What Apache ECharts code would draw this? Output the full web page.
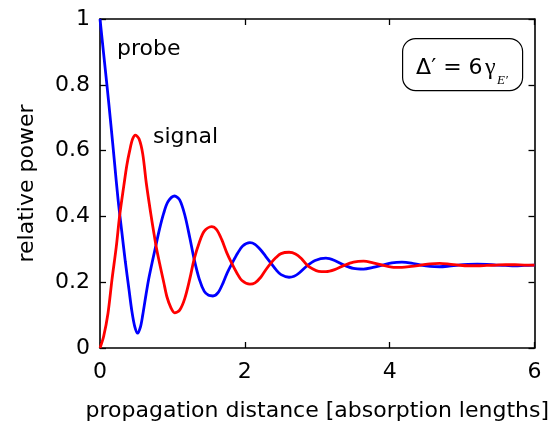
<!DOCTYPE html>
<html>
<head>
<meta charset="utf-8">
<script src="https://cdn.jsdelivr.net/npm/echarts@6/dist/echarts.min.js"></script>
<style>
  html, body { margin: 0; padding: 0; background: #fff; }
  #chart { width: 552px; height: 428px; }
</style>
</head>
<body>
<div id="chart"></div>
<script>
// Axis ticks
const xTicks = [0, 2, 4, 6];
const yTicks = [0, 0.2, 0.4, 0.6, 0.8, 1];

// Relative power of the probe field vs. propagation distance [distance, power]
const probe = [
  [0, 1.0], [0.05, 0.895], [0.10, 0.79], [0.15, 0.68], [0.20, 0.565], [0.25, 0.45],
  [0.30, 0.355], [0.35, 0.262], [0.40, 0.178], [0.44, 0.112], [0.48, 0.065], [0.52, 0.045],
  [0.56, 0.065], [0.59, 0.10], [0.63, 0.155], [0.67, 0.207], [0.72, 0.26], [0.77, 0.31],
  [0.82, 0.36], [0.88, 0.41], [0.94, 0.445], [1.03, 0.462], [1.10, 0.45], [1.17, 0.405],
  [1.24, 0.335], [1.30, 0.27], [1.37, 0.21], [1.44, 0.172], [1.50, 0.16], [1.56, 0.158],
  [1.63, 0.168], [1.70, 0.198], [1.76, 0.23], [1.83, 0.26], [1.90, 0.288], [1.97, 0.31],
  [2.07, 0.32], [2.14, 0.315], [2.22, 0.298], [2.29, 0.278], [2.36, 0.258], [2.43, 0.238],
  [2.50, 0.223], [2.61, 0.215], [2.68, 0.218], [2.75, 0.228], [2.86, 0.250], [2.97, 0.266],
  [3.12, 0.273], [3.24, 0.266], [3.37, 0.252], [3.50, 0.242], [3.64, 0.240], [3.77, 0.245],
  [3.90, 0.252], [4.03, 0.259], [4.17, 0.261], [4.30, 0.258], [4.43, 0.252], [4.56, 0.248],
  [4.69, 0.247], [4.82, 0.249], [4.95, 0.252], [5.08, 0.254], [5.21, 0.255], [5.34, 0.254],
  [5.47, 0.252], [5.60, 0.251], [5.73, 0.250], [5.86, 0.251], [6.0, 0.252]
];

// Relative power of the generated signal field [distance, power]
const signal = [
  [0, 0], [0.05, 0.035], [0.11, 0.105], [0.165, 0.207], [0.225, 0.308], [0.27, 0.40],
  [0.33, 0.495], [0.37, 0.555], [0.41, 0.600], [0.45, 0.635], [0.49, 0.647], [0.54, 0.635],
  [0.59, 0.59], [0.64, 0.50], [0.70, 0.41], [0.74, 0.355], [0.78, 0.303], [0.83, 0.25],
  [0.88, 0.20], [0.925, 0.155], [0.98, 0.122], [1.03, 0.107], [1.10, 0.115], [1.17, 0.15],
  [1.24, 0.21], [1.30, 0.27], [1.37, 0.32], [1.44, 0.355], [1.54, 0.369], [1.61, 0.36],
  [1.68, 0.33], [1.75, 0.29], [1.82, 0.257], [1.89, 0.228], [1.96, 0.205], [2.07, 0.194],
  [2.14, 0.198], [2.22, 0.215], [2.29, 0.238], [2.36, 0.258], [2.43, 0.275], [2.50, 0.287],
  [2.61, 0.291], [2.70, 0.286], [2.78, 0.272], [2.86, 0.252], [2.94, 0.24], [3.02, 0.233],
  [3.12, 0.232], [3.24, 0.238], [3.37, 0.251], [3.50, 0.261], [3.64, 0.264], [3.77, 0.259],
  [3.90, 0.252], [4.03, 0.246], [4.17, 0.245], [4.30, 0.248], [4.43, 0.252], [4.56, 0.256],
  [4.69, 0.257], [4.82, 0.255], [4.95, 0.252], [5.08, 0.250], [5.21, 0.250], [5.34, 0.251],
  [5.47, 0.252], [5.60, 0.253], [5.73, 0.253], [5.86, 0.252], [6.0, 0.252]
];

const FONT = 'DejaVu Sans';
const INK = '#000';

const chart = echarts.init(document.getElementById('chart'), null, { renderer: 'canvas' });

function frameAxis(ticks, extra) {
  return Object.assign({
    type: 'value',
    min: ticks[0],
    max: ticks[ticks.length - 1],
    interval: ticks[1] - ticks[0],
    axisLine: { show: true, onZero: false, lineStyle: { color: INK, width: 1.6 } },
    axisTick: { show: true, inside: true, length: 6, lineStyle: { color: INK, width: 1.3 } },
    splitLine: { show: false },
    axisLabel: { show: false }
  }, extra);
}

chart.setOption({
  backgroundColor: '#fff',
  animation: false,
  grid: { left: 100, right: 15, top: 19, bottom: 80, containLabel: false },
  xAxis: [
    frameAxis(xTicks, {
      position: 'bottom',
      name: 'propagation distance [absorption lengths]',
      nameLocation: 'middle',
      nameGap: 52,
      nameTextStyle: { fontFamily: FONT, fontSize: 22, color: INK },
      axisLabel: { show: true, margin: 13, fontFamily: FONT, fontSize: 22, color: INK }
    }),
    frameAxis(xTicks, { position: 'top' })
  ],
  yAxis: [
    frameAxis(yTicks, {
      position: 'left',
      name: 'relative power',
      nameLocation: 'middle',
      nameGap: 62,
      nameTextStyle: { fontFamily: FONT, fontSize: 22, color: INK },
      axisLabel: { show: true, margin: 10, fontFamily: FONT, fontSize: 22, color: INK }
    }),
    frameAxis(yTicks, { position: 'right' })
  ],
  series: [
    {
      name: 'probe', type: 'line', xAxisIndex: 0, yAxisIndex: 0,
      data: probe, showSymbol: false, smooth: 0.3, sampling: 'none',
      lineStyle: { color: '#0000ff', width: 2.8 }, z: 2
    },
    {
      name: 'signal', type: 'line', xAxisIndex: 0, yAxisIndex: 0,
      data: signal, showSymbol: false, smooth: 0.3, sampling: 'none',
      lineStyle: { color: '#ff0000', width: 2.8 }, z: 3
    }
  ],
  graphic: [
    { type: 'text', left: 117, top: 38, style: { text: 'probe', font: '22px "DejaVu Sans"', fill: INK } },
    { type: 'text', left: 153, top: 126, style: { text: 'signal', font: '22px "DejaVu Sans"', fill: INK } },
    {
      type: 'group', left: 402, top: 38,
      children: [
        { type: 'rect', shape: { x: 0.5, y: 0.5, width: 120, height: 52, r: 13 },
          style: { fill: '#fff', stroke: INK, lineWidth: 1.2 } },
        { type: 'text', x: 14, y: 19, style: { text: 'Δ′ = 6', font: '22px "DejaVu Sans"', fill: INK } },
        { type: 'text', x: 83, y: 18, style: { text: 'γ', font: '24px "Liberation Serif"', fill: INK } },
        { type: 'text', x: 95, y: 36, style: { text: 'E′', font: 'italic 13px "Liberation Serif"', fill: INK } }
      ]
    }
  ]
});
</script>
</body>
</html>
